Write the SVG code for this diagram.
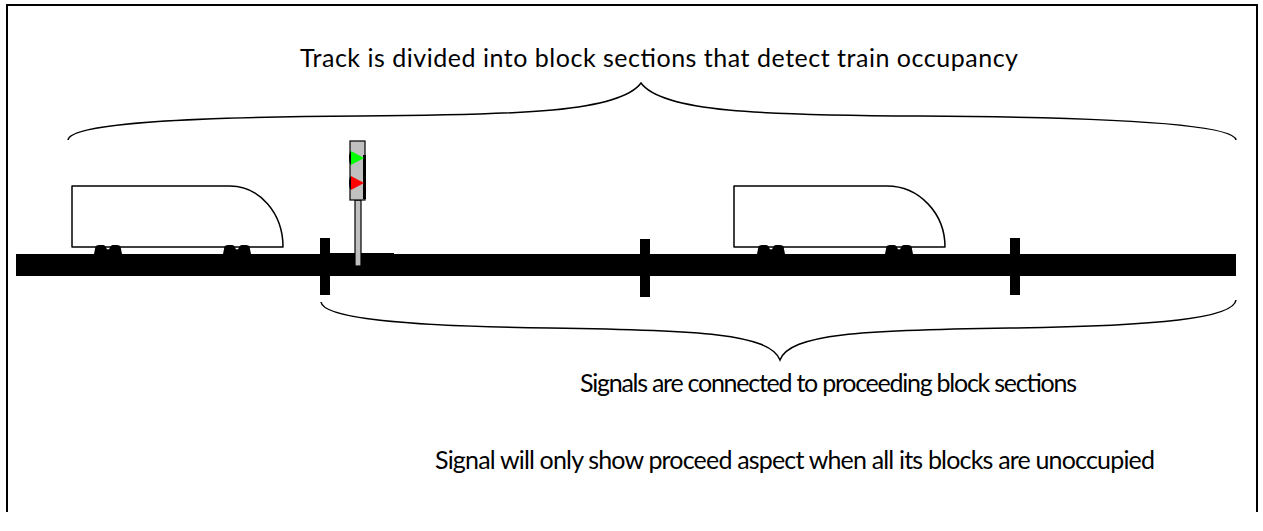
<svg xmlns="http://www.w3.org/2000/svg" width="1263" height="531" viewBox="0 0 1263 531">
  <style>
    .frame { fill: none; stroke: #000; stroke-width: 2; }
    .body { fill: #fff; stroke: #000; stroke-width: 1.5; stroke-linejoin: round; }
    .wheel { fill: #000; }
    .rail { fill: #000; }
    .brace { fill: none; stroke: #000; stroke-width: 1.5; }
    .label { font-family: Lato, "Liberation Sans", sans-serif; font-size: 25px; fill: #000; }
    .post { fill: #c0c0c0; stroke: #000; stroke-width: 1.2; }
  </style>
  <defs>
    <!-- a bogie: dark blob with a notch in the middle -->
    <path id="bogie" d="M-14,9 L-12.5,1.5 Q-12,0 -9,0 H-5 Q-2.5,0 -1.5,3.5 Q0,5.5 1.5,3.5 Q2.5,0 5,0 H9 Q12,0 12.5,1.5 L14,9 Z"/>
  </defs>

  <rect width="1263" height="531" fill="#fff"/>
  <path class="frame" d="M7,512 V5 H1257 V512"/>

  <!-- track and block joints -->
  <g id="track">
    <rect class="rail" x="16" y="254" width="1220" height="22"/>
    <line x1="330" y1="253.5" x2="394" y2="253.5" stroke="#000" stroke-width="1"/>
    <rect class="rail" x="320" y="238" width="10" height="57"/>
    <rect class="rail" x="640" y="239" width="10" height="58"/>
    <rect class="rail" x="1010" y="238" width="10" height="57"/>
  </g>

  <g id="train-1">
    <path class="body" d="M72,186 H230 A53,61 0 0 1 283,247 H72 Z"/>
    <use href="#bogie" x="108" y="245" class="wheel"/>
    <use href="#bogie" x="237" y="245" class="wheel"/>
  </g>

  <g id="train-2">
    <path class="body" d="M734,186 H887 A58,61 0 0 1 945,247 H734 Z"/>
    <use href="#bogie" x="771" y="245" class="wheel"/>
    <use href="#bogie" x="899" y="245" class="wheel"/>
  </g>

  <g id="signal">
    <rect class="post" x="355" y="200" width="6" height="66"/>
    <rect class="post" x="350" y="141" width="15" height="59" stroke-width="1.5"/>
    <rect x="363" y="155" width="3" height="44" fill="#000"/>
    <path d="M351,151.5 A2,6.5 0 0 0 351,164.5 Z" fill="#000"/>
    <path d="M351,176.5 A2,6.5 0 0 0 351,189.5 Z" fill="#000"/>
    <polygon points="351,151 364,158 351,165" fill="#00ff00"/>
    <polygon points="351,176 364,183 351,190" fill="#ff0000"/>
  </g>

  <g id="connectors">
    <path class="brace" d="M68,140 C70,122 200,117 360,116 C520,115 620,112 641,83 C662,112 760,115 920,116 C1080,117 1234,122 1236,140"/>
    <path class="brace" d="M321,302 C323,318 400,326 550,328 C700,330 770,334 780,360 C790,334 860,330 1010,328 C1160,326 1234,318 1236,300"/>
  </g>

  <g id="labels">
    <text class="label" x="300" y="67" textLength="718" lengthAdjust="spacing">Track is divided into block sections that detect train occupancy</text>
    <text class="label" x="580" y="392" textLength="497" lengthAdjust="spacing">Signals are connected to proceeding block sections</text>
    <text class="label" x="435" y="469" textLength="720" lengthAdjust="spacing">Signal will only show proceed aspect when all its blocks are unoccupied</text>
  </g>
</svg>
